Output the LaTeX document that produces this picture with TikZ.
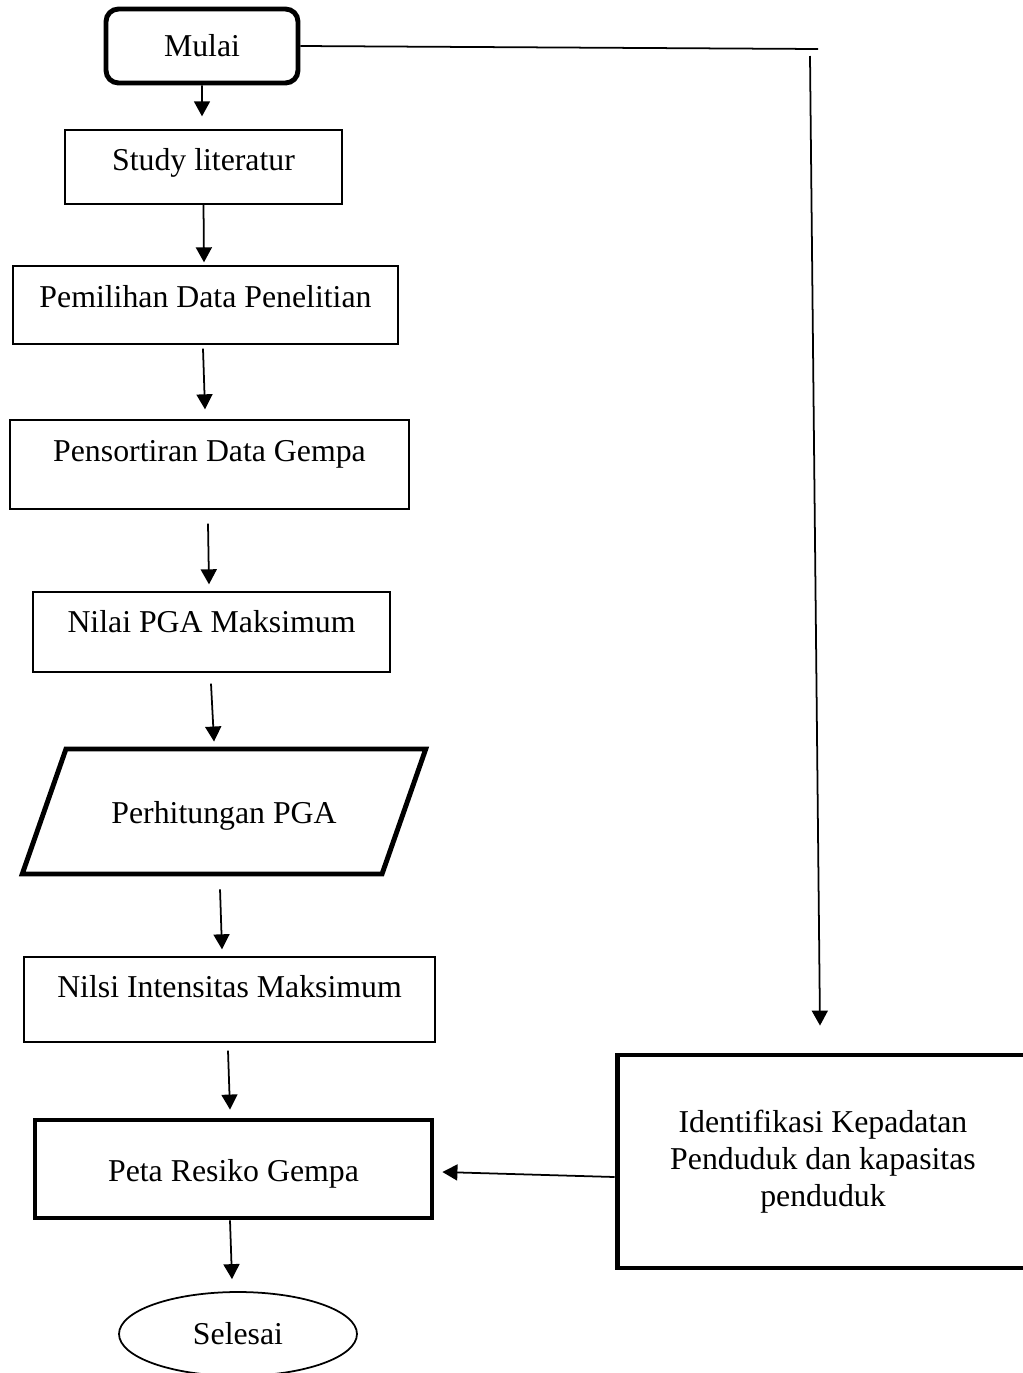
\documentclass[tikz,border=0pt]{standalone}
\usepackage{fontspec}
\setmainfont{Liberation Serif}
\usetikzlibrary{shapes.geometric,arrows.meta}

\begin{document}
\begin{tikzpicture}[x=0.02cm, y=-0.02cm,
		every node/.style={font=\fontsize{18.1}{21}\selectfont},
		box/.style={draw, line width=0.8pt, inner sep=0pt, anchor=base},
		boldbox/.style={box, line width=2.8pt},
		io/.style={trapezium, trapezium left angle=76, trapezium right angle=104, trapezium stretches=true, boldbox},
		arr/.style={line width=1pt, -{Triangle[width=0.32cm,length=0.3cm]}}]
		\useasboundingbox (0,0) rectangle (1022,1373);

		\path (202,46) node[draw, line width=2.8pt, rounded corners=0.25cm, minimum width=3.84cm, minimum height=1.48cm] (mulai) {Mulai}
		(203.5,170) node[box, minimum width=5.54cm, text height=0.8cm, text depth=0.68cm] (study) {Study literatur}
		(205.5,307) node[box, minimum width=7.7cm, text height=0.82cm, text depth=0.74cm] (pilih) {Pemilihan Data Penelitian}
		(209.5,461) node[box, minimum width=7.98cm, text height=0.82cm, text depth=0.96cm] (sortir) {Pensortiran Data Gempa}
		(211.5,632) node[box, minimum width=7.14cm, text height=0.8cm, text depth=0.8cm] (pgamax) {Nilai PGA Maksimum}
		(224,823) node[io, minimum width=8.08cm, minimum height=2.5cm, text height=1.48cm, text depth=1.02cm] (hitung) {Perhitungan PGA}
		(229.5,997) node[box, minimum width=8.22cm, text height=0.8cm, text depth=0.9cm] (intens) {Nilsi Intensitas Maksimum}
		(233.5,1181) node[boldbox, minimum width=7.94cm, text height=1.22cm, text depth=0.74cm] (peta) {Peta Resiko Gempa}
		(238,1334) node[ellipse, draw, line width=1pt, inner sep=0pt, minimum width=4.76cm, minimum height=1.68cm] (selesai) {Selesai}
		(823,1161.5) node[draw, line width=2.8pt, align=center, minimum width=8.24cm, minimum height=4.26cm] (padat) {Identifikasi Kepadatan\\Penduduk dan kapasitas\\penduduk};
		\coordinate (sudut) at (818,49);

		\draw[arr] (mulai.south) -- ([xshift=-0.03cm,yshift=0.26cm]study.north);
		\draw[arr] (study.south) -- ([xshift=-0.03cm,yshift=0.06cm]pilih.north);
		\draw[arr] ([xshift=-0.05cm,yshift=-0.08cm]pilih.south) -- ([xshift=-0.09cm,yshift=0.2cm]sortir.north);
		\draw[arr] ([xshift=-0.03cm,yshift=-0.28cm]sortir.south) -- ([xshift=-0.05cm,yshift=0.14cm]pgamax.north);
		\draw[arr] ([xshift=-0.01cm,yshift=-0.22cm]pgamax.south) -- ([xshift=-0.2cm,yshift=0.1cm]hitung.north);
		\draw[arr] ([xshift=-0.08cm,yshift=-0.26cm]hitung.south) -- ([xshift=-0.15cm,yshift=0.14cm]intens.north);
		\draw[arr] ([xshift=-0.03cm,yshift=-0.16cm]intens.south) -- ([xshift=-0.07cm,yshift=0.16cm]peta.north);
		\draw[arr] ([xshift=-0.07cm]peta.south) -- ([xshift=-0.12cm,yshift=0.24cm]selesai.north);
		\draw[line width=1pt] (mulai.east) -- (sudut);
		\draw[arr] ([xshift=-0.16cm,yshift=-0.14cm]sudut) -- ([xshift=-0.06cm,yshift=0.54cm]padat.north);
		\draw[arr] ([yshift=-0.31cm]padat.west) -- ([xshift=0.16cm,yshift=-0.06cm]peta.east);
	\end{tikzpicture}
\end{document}
